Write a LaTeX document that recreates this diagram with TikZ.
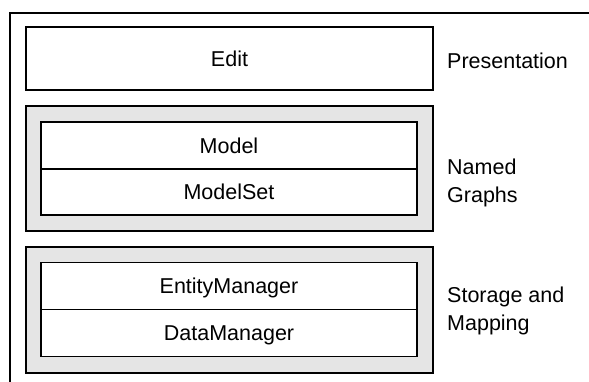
\documentclass[tikz,border=0pt]{standalone}
\usepackage{fontspec}
\setmainfont{Liberation Sans}
\definecolor{layergray}{RGB}{229,229,229}
\begin{document}
\begin{tikzpicture}[x=1pt,y=-1pt,
  every node/.style={font=\fontsize{21.5}{27.5}\selectfont},
  outerbox/.style={draw=black,line width=1.7pt,rectangle,inner sep=0pt,minimum width=407pt},
  layerbox/.style={outerbox,fill=layergray},
  compbox/.style={draw=black,line width=1.2pt,fill=white,rectangle,inner sep=0pt,minimum width=376pt,text height=15.4pt,text depth=0pt},
  sidelabel/.style={align=left,anchor=west,inner sep=0pt}]
\useasboundingbox (0,0) rectangle (589,381);
% outer frame (cut off at right and bottom)
\coordinate (fbl) at (10.3,382);
\coordinate (ftl) at (10.3,13);
\coordinate (ftr) at (590,13);
\draw[line width=2pt] (fbl) -- (ftl) -- (ftr);
% presentation
\node[outerbox,minimum height=63pt,text height=15.4pt,text depth=0pt] (edit) at (229.5,58.5) {Edit};
\node[sidelabel,text height=15.4pt,text depth=0pt] (pres) at (447,60.8) {Presentation};
% named graphs
\node[layerbox,minimum height=125pt] (ng) at (229.5,168.5) {};
\node[compbox,minimum height=47pt] (model) at (229,145.5) {Model};
\node[compbox,minimum height=46pt] (modelset) at (229,192) {ModelSet};
\node[sidelabel] (nglabel) at (447,183) {Named\\Graphs};
% storage and mapping
\node[layerbox,minimum height=125.7pt] (sm) at (229.5,309.8) {};
\node[compbox,minimum height=46.6pt] (entity) at (229,286) {EntityManager};
\node[compbox,minimum height=47.4pt] (data) at (229,333) {DataManager};
\node[sidelabel] (smlabel) at (447,310.8) {Storage and\\Mapping};
\end{tikzpicture}
\end{document}
